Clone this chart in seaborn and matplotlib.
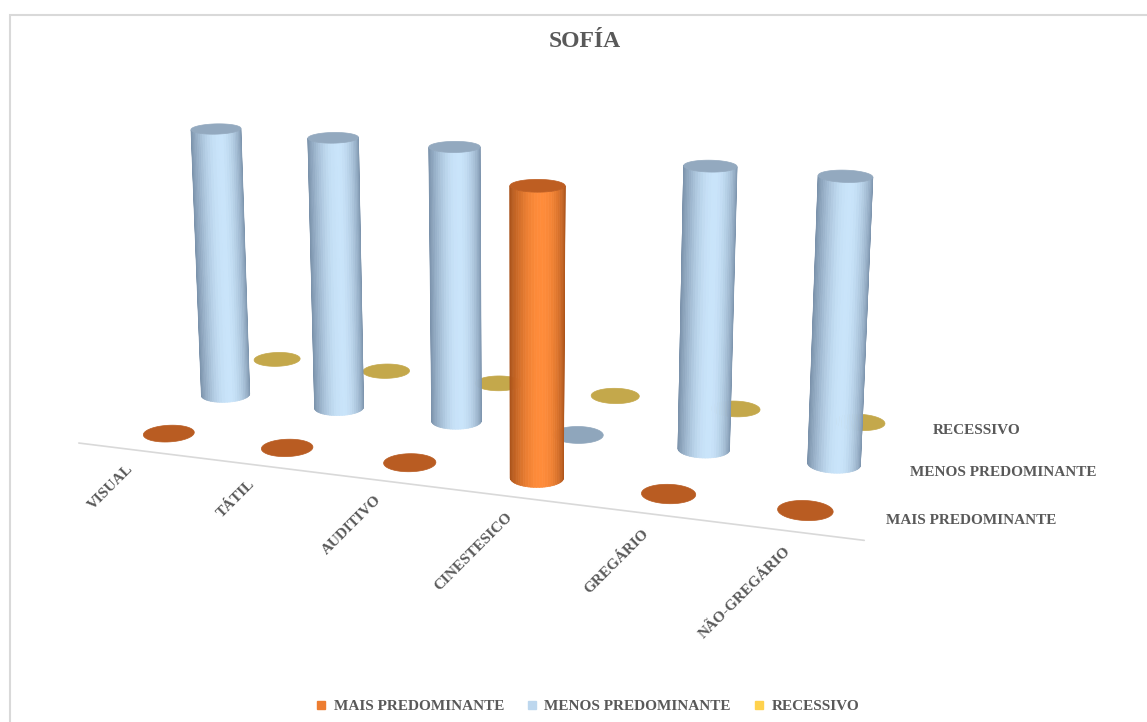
import numpy as np
import pandas as pd
import seaborn as sns
import matplotlib
matplotlib.use("Agg")
import matplotlib.pyplot as plt
from mpl_toolkits.mplot3d import proj3d
from mpl_toolkits.mplot3d.art3d import Poly3DCollection
from matplotlib.colors import to_rgb
from matplotlib.patches import Rectangle
from matplotlib.lines import Line2D

# ---- data -------------------------------------------------------------
categories = ["VISUAL", "TÁTIL", "AUDITIVO", "CINESTESICO", "GREGÁRIO", "NÃO-GREGÁRIO"]
series_names = ["MAIS PREDOMINANTE", "MENOS PREDOMINANTE", "RECESSIVO"]
mais_predominante = [0, 0, 0, 1, 0, 0]
menos_predominante = [1, 1, 1, 0, 1, 1]
recessivo = [0, 0, 0, 0, 0, 0]

df = pd.DataFrame({
    "categoria": categories * 3,
    "serie": np.repeat(series_names, len(categories)),
    "valor": mais_predominante + menos_predominante + recessivo,
})

# ---- style ------------------------------------------------------------
sns.set_theme(style="white")
plt.rcParams["font.family"] = ["Liberation Serif", "DejaVu Serif"]
TXT = "#595959"

legend_colors = ["#ED7D31", "#BDD7EE", "#FFD24D"]
body_edge = ["#A9521A", "#7A91AA", "#A88A20"]
body_mid = ["#FF8C3A", "#C9E4FA", "#FFD24A"]
cap_top = ["#BE5E22", "#93A9BF", "#C5A84C"]
flat_disk = ["#B95C22", "#8FA6BC", "#C4A84B"]

AZIM, ELEV = -71, 16
R = 0.195
NSEG = 60

fig = plt.figure(figsize=(11.47, 7.22), dpi=100)
fig.patch.set_facecolor("white")
ax = fig.add_axes([-0.058, 0.082, 1.0, 1.0], projection="3d")
ax.set_proj_type("persp", focal_length=0.6)
ax.view_init(elev=ELEV, azim=AZIM)
ax.set_xlim(-0.5, 5.5)
ax.set_ylim(-0.5, 2.5)
ax.set_zlim(0, 1)
ax.set_box_aspect((6, 3, 2.2), zoom=1.24)
ax.set_axis_off()

M = ax.get_proj()


def to2d(x, y, z):
    px, py, _ = proj3d.proj_transform(np.asarray(x, float), np.asarray(y, float),
                                      np.asarray(z, float), M)
    return px, py


def mix(c1, c2, t):
    a, b = np.array(to_rgb(c1)), np.array(to_rgb(c2))
    return tuple(a + (b - a) * t)


def gradient(u):
    # brightness across the visible width of a cylinder (0 = left, 1 = right)
    u = np.clip(u, 0, 1)
    return np.where(u < 0.58, np.sin(np.pi / 2 * u / 0.58) ** 0.9,
                    np.cos(np.pi / 2 * (u - 0.58) / 0.42) ** 0.7)


theta = np.linspace(0, 2 * np.pi, NSEG + 1)
polys, colors = [], []
for si, name in enumerate(series_names):
    sub = df[df["serie"] == name]
    for xi, val in enumerate(sub["valor"].to_numpy()):
        ring_x = xi + R * np.cos(theta)
        ring_y = si + R * np.sin(theta)
        if val > 0:
            mx, my = to2d(ring_x, ring_y, np.full_like(ring_x, val / 2))
            left, right = mx.min(), mx.max()
            for k in range(NSEG):
                quad = [
                    (ring_x[k], ring_y[k], 0), (ring_x[k + 1], ring_y[k + 1], 0),
                    (ring_x[k + 1], ring_y[k + 1], val), (ring_x[k], ring_y[k], val),
                ]
                qx, qy = to2d(*np.array(quad).T)
                area = 0.5 * np.sum(qx * np.roll(qy, -1) - np.roll(qx, -1) * qy)
                if area <= 0:
                    continue  # face turned away from the viewer
                u = (0.5 * (mx[k] + mx[k + 1]) - left) / (right - left)
                polys.append(quad)
                colors.append(mix(body_edge[si], body_mid[si], float(gradient(u))))
            polys.append(list(zip(ring_x, ring_y, np.full_like(ring_x, val))))
            colors.append(to_rgb(cap_top[si]))
        else:
            polys.append(list(zip(ring_x, ring_y, np.zeros_like(ring_x))))
            colors.append(to_rgb(flat_disk[si]))

coll = Poly3DCollection(polys, facecolors=colors, edgecolors=colors, linewidths=0.5)
coll.set_clip_on(False)
ax.add_collection3d(coll)

# floor front edge
ln, = ax.plot([-0.55, 5.5], [-0.42, -0.42], [0, 0], color="#d9d9d9", lw=1.2)
ln.set_clip_on(False)

# category labels along the front edge, rotated on screen
for xi, cat in enumerate(categories):
    px, py = to2d(xi + 0.06, -0.66, 0)
    t = ax.text2D(px, py, cat, transform=ax.transData, rotation=45, ha="right",
                  va="top", fontsize=11, fontweight="bold", color=TXT)
    t.set_clip_on(False)

# series labels along the right edge
for si, name in enumerate(series_names):
    px, py = to2d(5.57, si, 0)
    t = ax.text2D(px, py, name, transform=ax.transData, ha="left", va="center",
                  fontsize=11, fontweight="bold", color=TXT)
    t.set_clip_on(False)

fig.text(0.51, 0.943, "SOFÍA", ha="center", va="center", fontsize=17,
         fontweight="bold", color=TXT)

handles = [Line2D([0], [0], marker="s", linestyle="none", markersize=6,
                  markerfacecolor=c, markeredgecolor=c) for c in legend_colors]
fig.legend(handles, series_names, loc="center", bbox_to_anchor=(0.508, 0.022),
           ncol=3, frameon=False, handletextpad=-0.2, columnspacing=0.85,
           prop={"size": 11, "weight": "bold"}, labelcolor=TXT)

fig.patches.append(Rectangle((10 / 1147, -0.1), 1.2, 1 - 15 / 722 + 0.1,
                             transform=fig.transFigure, fill=False,
                             edgecolor="#d9d9d9", lw=1.5))

fig.savefig("out.png", dpi=100)
